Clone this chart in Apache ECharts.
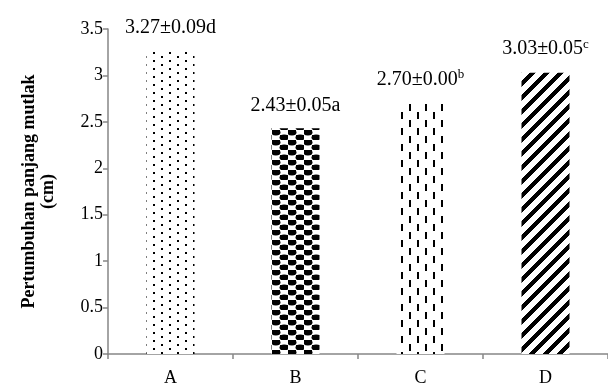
<!DOCTYPE html>
<html>
<head>
<meta charset="utf-8">
<script src="https://cdn.jsdelivr.net/npm/echarts@6/dist/echarts.min.js"></script>
<style>
html,body{margin:0;padding:0;background:#fff;}
#chart{width:608px;height:389px;}
</style>
</head>
<body>
<div id="chart"></div>
<script>
const categories = ['A', 'B', 'C', 'D'];
const values = [3.27, 2.43, 2.70, 3.03];
const errors = [0.09, 0.05, 0.00, 0.05];
const letters = ['d', 'a', 'b', 'c'];
const superscript = [false, false, true, true];
const yTicks = { min: 0, max: 3.5, interval: 0.5 };

function makeCanvas(w, h, draw) {
  const c = document.createElement('canvas');
  c.width = w; c.height = h;
  const ctx = c.getContext('2d');
  ctx.fillStyle = '#fff';
  ctx.fillRect(0, 0, w, h);
  ctx.fillStyle = '#000';
  draw(ctx, w, h);
  return c;
}
const patDots = makeCanvas(16, 8, (ctx) => {
  ctx.fillRect(1, 0, 2, 2);
  ctx.fillRect(9, 4, 2, 2);
});
const patChecker = makeCanvas(16, 10, (ctx) => {
  ctx.beginPath(); ctx.ellipse(4, 2.5, 4.5, 3, 0, 0, Math.PI * 2); ctx.fill();
  ctx.fillRect(0, 0, 8, 3);
  ctx.beginPath(); ctx.ellipse(12, 7.5, 4.5, 3, 0, 0, Math.PI * 2); ctx.fill();
  ctx.fillRect(8, 5, 8, 3);
});
const patDash = makeCanvas(16, 16, (ctx) => {
  ctx.fillRect(1, 0, 2, 7);
  ctx.fillRect(9, 8, 2, 7);
});
const patDiag = makeCanvas(14, 14, (ctx, w, h) => {
  const img = ctx.getImageData(0, 0, w, h);
  for (let y = 0; y < h; y++) {
    for (let x = 0; x < w; x++) {
      const i = (y * w + x) * 4;
      const v = ((x + y) % 14) < 6 ? 0 : 255;
      img.data[i] = v; img.data[i + 1] = v; img.data[i + 2] = v; img.data[i + 3] = 255;
    }
  }
  ctx.putImageData(img, 0, 0);
});
const patterns = [patDots, patChecker, patDash, patDiag];

const chart = echarts.init(document.getElementById('chart'), null, { renderer: 'canvas' });
const FONT = '"Liberation Serif", "Times New Roman", serif';
const axisGray = '#868686';

const seriesData = values.map((v, i) => ({
  value: v,
  itemStyle: { color: { image: patterns[i], repeat: 'repeat' } },
  label: {
    formatter: () => {
      const base = v.toFixed(2) + '±' + errors[i].toFixed(2);
      return superscript[i] ? base + '{sup|' + letters[i] + '}' : base + letters[i];
    }
  }
}));

chart.setOption({
  animation: false,
  backgroundColor: '#fff',
  grid: { left: 108, right: 0, top: 29, bottom: 35 },
  xAxis: {
    type: 'category',
    data: categories,
    axisLine: { lineStyle: { color: axisGray, width: 1.5 } },
    axisTick: { show: true, length: 5, lineStyle: { color: axisGray, width: 1.5 } },
    axisLabel: { color: '#000', fontFamily: FONT, fontSize: 18, margin: 15 }
  },
  yAxis: {
    type: 'value',
    min: yTicks.min, max: yTicks.max, interval: yTicks.interval,
    name: 'Pertumbuhan panjang mutlak\n(cm)',
    nameLocation: 'middle',
    nameRotate: 90,
    nameGap: 50,
    nameTextStyle: { color: '#000', fontFamily: FONT, fontSize: 18, fontWeight: 'bold', lineHeight: 19 },
    axisLine: { show: true, lineStyle: { color: axisGray, width: 1.5 } },
    axisTick: { show: true, length: 5, lineStyle: { color: axisGray, width: 1.5 } },
    splitLine: { show: false },
    axisLabel: { color: '#000', fontFamily: FONT, fontSize: 18, margin: 5 }
  },
  series: [{
    type: 'bar',
    data: seriesData,
    barWidth: 48,
    label: {
      show: true,
      position: 'top',
      distance: 13,
      color: '#000',
      fontFamily: FONT,
      fontSize: 20,
      rich: {
        sup: { fontFamily: FONT, fontSize: 13, color: '#000', verticalAlign: 'top', padding: [0, 0, 9, 0] }
      }
    }
  }]
});
</script>
</body>
</html>
